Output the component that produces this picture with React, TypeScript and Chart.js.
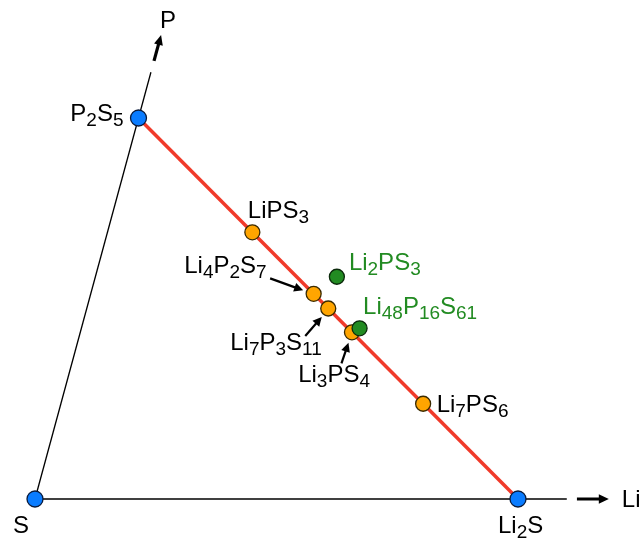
import React, { useEffect, useRef } from "react";
import { Chart, registerables } from "chart.js";

Chart.register(...registerables);

// ---- Data: compositions (atoms of Li, P, S) ----
const endNames = ["S", "P2S5", "Li2S"];
const endLi = [0, 0, 2];
const endP = [0, 2, 0];
const endS = [1, 5, 1];

const phaseNames = ["LiPS3", "Li4P2S7", "Li7P3S11", "Li3PS4", "Li7PS6"];
const phaseLi = [1, 4, 7, 3, 7];
const phaseP = [1, 2, 3, 1, 1];
const phaseS = [3, 7, 11, 4, 6];

const newNames = ["Li2PS3", "Li48P16S61"];
const newLi = [2, 48];
const newP = [1, 16];
const newS = [3, 61];

// Axis extents (fractions of P along S→P, of Li along S→Li)
const axisNames = ["P", "Li"];
const pAxisEnd = 0.32;
const liAxisEnd = 0.734;
const pArrow = [0.3285, 0.348];
const liArrow = [0.748, 0.792];

// ---- helpers ----
function toXY(li: number, p: number, s: number) {
  const n = li + p + s;
  const fLi = li / n;
  const fP = p / n;
  return { x: fLi + 0.5 * fP, y: fP };
}
function fracXY(fLi: number, fP: number) {
  return { x: fLi + 0.5 * fP, y: fP };
}

const BLACK = "#000000";
const GREEN = "#228b22";
const FONT = '"Liberation Sans", Arial, Helvetica, sans-serif';
const MAIN = 24;
const SUB = 19;
const SUB_SHIFT = 5;

// label placement (pixel offsets from the point)
const labelLayout: Record<string, { dx: number; dy: number; align: "left" | "right" }> = {
  S: { dx: -22, dy: 34, align: "left" },
  P2S5: { dx: -15, dy: 3, align: "right" },
  Li2S: { dx: -20, dy: 34, align: "left" },
  LiPS3: { dx: -4.5, dy: -14, align: "left" },
  Li4P2S7: { dx: -47, dy: -20.5, align: "right" },
  Li7P3S11: { dx: -6.5, dy: 41.5, align: "right" },
  Li3PS4: { dx: 18, dy: 49.5, align: "right" },
  Li7PS6: { dx: 13.5, dy: 8, align: "left" },
  Li2PS3: { dx: 12, dy: -6.5, align: "left" },
  Li48P16S61: { dx: 3.5, dy: -14, align: "left" },
};

const pointerLayout: Record<string, [number, number, number, number]> = {
  Li4P2S7: [-43.5, -15.5, -10.5, -3.5],
  Li7P3S11: [-23, 27.5, -6.5, 8.5],
  Li3PS4: [-10.5, 31, -3.5, 10.5],
};

function tokens(formula: string) {
  const out: { t: string; sub: boolean }[] = [];
  const re = /([A-Z][a-z]?)|(\d+)/g;
  let m: RegExpExecArray | null;
  while ((m = re.exec(formula))) {
    if (m[1]) out.push({ t: m[1], sub: false });
    else out.push({ t: m[2], sub: true });
  }
  return out;
}

function drawFormula(ctx: CanvasRenderingContext2D, formula: string, x: number, y: number, align: string, color: string) {
  const parts = tokens(formula);
  let w = 0;
  for (const p of parts) {
    ctx.font = `${p.sub ? SUB : MAIN}px ${FONT}`;
    w += ctx.measureText(p.t).width;
  }
  let cx = align === "right" ? x - w : x;
  ctx.fillStyle = color;
  ctx.textBaseline = "alphabetic";
  ctx.textAlign = "left";
  for (const p of parts) {
    ctx.font = `${p.sub ? SUB : MAIN}px ${FONT}`;
    ctx.fillText(p.t, cx, p.sub ? y + SUB_SHIFT : y);
    cx += ctx.measureText(p.t).width;
  }
}

function drawArrow(ctx: CanvasRenderingContext2D, x0: number, y0: number, x1: number, y1: number, lw: number, hl: number, hw: number) {
  const ang = Math.atan2(y1 - y0, x1 - x0);
  const bx = x1 - hl * Math.cos(ang);
  const by = y1 - hl * Math.sin(ang);
  ctx.strokeStyle = BLACK;
  ctx.fillStyle = BLACK;
  ctx.lineWidth = lw;
  ctx.lineCap = "butt";
  ctx.beginPath();
  ctx.moveTo(x0, y0);
  ctx.lineTo(bx + 1 * Math.cos(ang), by + 1 * Math.sin(ang));
  ctx.stroke();
  ctx.beginPath();
  ctx.moveTo(x1, y1);
  ctx.lineTo(bx + hw * Math.sin(ang), by - hw * Math.cos(ang));
  ctx.lineTo(bx - hw * Math.sin(ang), by + hw * Math.cos(ang));
  ctx.closePath();
  ctx.fill();
}

const annotPlugin = {
  id: "annot",
  afterDatasetsDraw(chart: any) {
    const ctx: CanvasRenderingContext2D = chart.ctx;
    const xs = chart.scales.x;
    const ys = chart.scales.y;
    const px = (pt: { x: number; y: number }) => ({ x: xs.getPixelForValue(pt.x), y: ys.getPixelForValue(pt.y) });
    ctx.save();

    // axis arrows
    const pa0 = px(fracXY(0, pArrow[0]));
    const pa1 = px(fracXY(0, pArrow[1]));
    drawArrow(ctx, pa0.x, pa0.y, pa1.x, pa1.y, 3.2, 10, 4.5);
    const la0 = px(fracXY(liArrow[0], 0));
    const la1 = px(fracXY(liArrow[1], 0));
    drawArrow(ctx, la0.x, la0.y, la1.x, la1.y, 3, 10, 4.8);

    ctx.font = `${MAIN}px ${FONT}`;
    ctx.fillStyle = BLACK;
    ctx.textAlign = "left";
    ctx.textBaseline = "alphabetic";
    ctx.fillText(axisNames[0], pa1.x - 1, pa1.y - 7);
    ctx.fillText(axisNames[1], la1.x + 13, la1.y + 8);

    const groups: [string[], number[], number[], number[], string][] = [
      [endNames, endLi, endP, endS, BLACK],
      [phaseNames, phaseLi, phaseP, phaseS, BLACK],
      [newNames, newLi, newP, newS, GREEN],
    ];
    for (const [names, li, p, s, color] of groups) {
      names.forEach((nm, i) => {
        const pt = px(toXY(li[i], p[i], s[i]));
        const lay = labelLayout[nm];
        if (lay) drawFormula(ctx, nm, pt.x + lay.dx, pt.y + lay.dy, lay.align, color);
        const ptr = pointerLayout[nm];
        if (ptr) drawArrow(ctx, pt.x + ptr[0], pt.y + ptr[1], pt.x + ptr[2], pt.y + ptr[3], 2.2, 9, 4.5);
      });
    }
    ctx.restore();
  },
};

export default function App() {
  const ref = useRef<HTMLCanvasElement | null>(null);

  useEffect(() => {
    document.body.style.margin = "0";
    const canvas = ref.current;
    if (!canvas) return;

    const endPts = endNames.map((_, i) => toXY(endLi[i], endP[i], endS[i]));
    const phasePts = phaseNames.map((_, i) => toXY(phaseLi[i], phaseP[i], phaseS[i]));
    const newPts = newNames.map((_, i) => toXY(newLi[i], newP[i], newS[i]));

    const W = 640, H = 539;
    const sx = 35, sy = 499, ux = 724.5, uy = 1333.5;

    const chart = new Chart(canvas, {
      type: "scatter",
      data: {
        datasets: [
          {
            data: newPts,
            backgroundColor: GREEN,
            borderColor: "#0b2a0b",
            borderWidth: 1.3,
            pointRadius: 7.5,
            order: 1,
            clip: false as any,
          },
          {
            data: phasePts,
            backgroundColor: "#ffa500",
            borderColor: "#3a2a00",
            borderWidth: 1.3,
            pointRadius: 7.5,
            order: 2,
            clip: false as any,
          },
          {
            data: endPts,
            backgroundColor: "#0a7cff",
            borderColor: "#0a1a3a",
            borderWidth: 1.3,
            pointRadius: 8,
            order: 3,
            clip: false as any,
          },
          {
            type: "line",
            data: [endPts[1], endPts[2]],
            borderColor: "#f03a2a",
            borderWidth: 3.5,
            pointRadius: 0,
            order: 5,
            clip: false as any,
          } as any,
          {
            type: "line",
            data: [fracXY(0, 0), fracXY(0, pAxisEnd)],
            borderColor: BLACK,
            borderWidth: 1.3,
            pointRadius: 0,
            order: 6,
            clip: false as any,
          } as any,
          {
            type: "line",
            data: [fracXY(0, 0), fracXY(liAxisEnd, 0)],
            borderColor: BLACK,
            borderWidth: 1.3,
            pointRadius: 0,
            order: 6,
            clip: false as any,
          } as any,
        ],
      },
      options: {
        responsive: false,
        animation: false,
        events: [],
        layout: { padding: 0, autoPadding: false },
        plugins: { legend: { display: false }, tooltip: { enabled: false } },
        scales: {
          x: { type: "linear", display: false, min: -sx / ux, max: (W - sx) / ux },
          y: { type: "linear", display: false, min: -(H - sy) / uy, max: sy / uy },
        },
      },
      plugins: [annotPlugin],
    });
    return () => chart.destroy();
  }, []);

  return <canvas ref={ref} width={640} height={539} style={{ display: "block" }} />;
}
